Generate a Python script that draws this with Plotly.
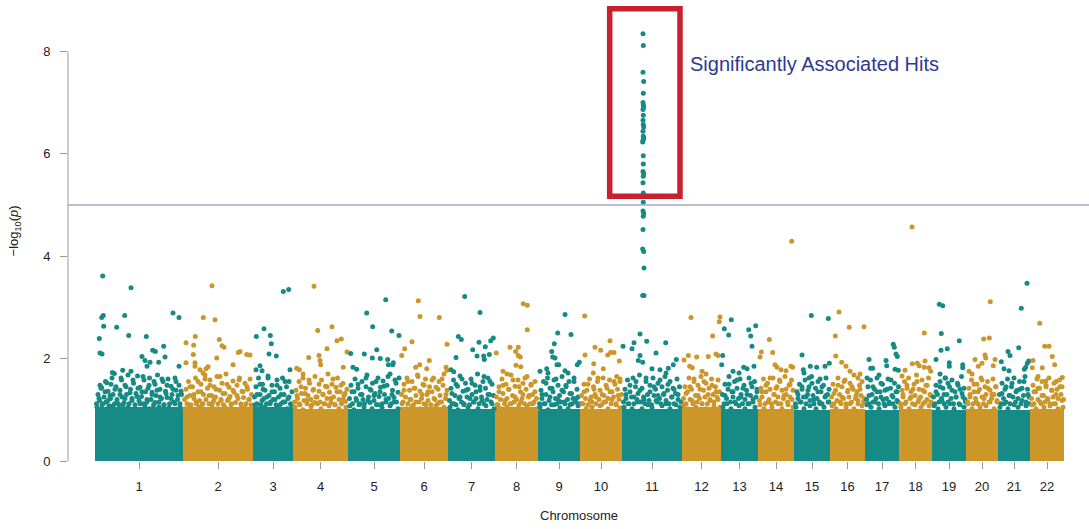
import plotly.graph_objects as go

# ---------------- data ----------------
chromosomes = [str(i) for i in range(1, 23)]
# displayed width of each chromosome block on the genome axis
chrom_width = [88, 70, 40, 55, 52, 48, 47, 43, 42, 42, 60, 39, 37, 36, 36, 35, 34, 33, 34, 32, 32, 34]
# height of the saturated (fully overplotted) SNP band in each chromosome
dense_band = [1.05, 1.05, 1.05, 1.02, 1.02, 1.05, 1.02, 1.05, 1.02, 1.02, 1.02, 1.05,
              1.02, 1.02, 1.0, 1.02, 1.0, 1.02, 1.0, 1.02, 1.0, 1.02]
significance_line = 5.0

# (position within chromosome, -log10 p) for SNPs above the saturated band
chr1 = [(7.7, 3.61), (36, 3.38), (6.7, 2.80), (8.3, 2.84), (29.7, 2.84), (8.7, 2.63), (21.7, 2.61),
        (78, 2.89), (84, 2.80), (33.7, 2.45), (51.3, 2.43), (4.3, 2.39), (5, 2.11), (7, 2.09),
        (47, 2.04), (57.7, 2.16), (60.3, 2.14), (68.7, 2.24), (70, 2.03), (63.7, 1.93), (84, 1.85),
        (50, 1.96), (55, 1.93), (52, 1.85), (17.3, 1.73), (19.3, 1.71), (27.7, 1.77), (36, 1.75),
        (11.7, 1.53), (5, 1.48), (6.7, 1.43),
        (2, 1.05), (4, 1.22), (6, 0.98), (8, 1.12), (10, 1.35), (12, 1.02), (13, 1.18), (15, 1.28),
        (16, 1.50), (18, 1.08), (20, 1.40), (22, 1.15), (23, 1.00), (25, 1.30), (26, 1.62), (28, 1.10),
        (30, 1.22), (31, 1.45), (33, 1.05), (35, 1.33), (37, 1.18), (38, 1.58), (40, 1.02), (42, 1.26),
        (43, 1.42), (45, 1.12), (47, 1.35), (48, 1.65), (50, 1.08), (52, 1.20), (54, 1.48), (55, 1.02),
        (57, 1.30), (59, 1.55), (60, 1.14), (62, 1.38), (64, 1.06), (65, 1.25), (67, 1.60), (69, 1.10),
        (71, 1.32), (72, 1.48), (74, 1.04), (76, 1.22), (78, 1.40), (80, 1.12), (81, 1.55), (83, 1.28),
        (85, 1.05), (86, 1.36),
        (1.5, 1.12), (3, 1.30), (4.5, 1.18), (6, 1.42), (7, 1.10), (9, 1.25), (10.5, 1.55), (11, 1.15),
        (13, 1.36), (14, 1.08), (15.5, 1.22), (17, 1.62), (18, 1.30), (19.5, 1.12), (21, 1.45), (22, 1.20),
        (24, 1.10), (25, 1.38), (26.5, 1.58), (27, 1.25), (29, 1.14), (30, 1.48), (31.5, 1.30), (33, 1.68),
        (34, 1.12), (35.5, 1.40), (37, 1.22), (38.5, 1.52), (40, 1.10), (41, 1.32), (42.5, 1.66), (44, 1.18),
        (45, 1.44), (46.5, 1.26), (48, 1.12), (49, 1.58), (50.5, 1.35), (52, 1.15), (53, 1.42), (54.5, 1.62),
        (56, 1.20), (57, 1.34), (58.5, 1.10), (60, 1.50), (61, 1.28), (62.5, 1.68), (64, 1.15), (65, 1.40),
        (66.5, 1.22), (68, 1.55), (69, 1.10), (70.5, 1.36), (72, 1.24), (73, 1.60), (74.5, 1.12), (76, 1.46),
        (77, 1.30), (78.5, 1.15), (80, 1.62), (81, 1.38), (82.5, 1.20), (84, 1.48), (85, 1.12), (86.5, 1.30)]
chr2 = [(29, 3.42), (20.3, 2.80), (32, 2.76), (12.3, 2.43), (3, 2.31), (10.7, 2.26), (36.3, 2.37),
        (39, 2.25), (41, 2.22), (10.3, 2.08), (33.7, 2.01), (57, 2.14), (55.3, 2.12), (63.7, 2.08),
        (67, 2.07), (50, 1.88), (3, 1.92), (12, 1.92), (12, 1.85), (25, 1.84), (23, 1.80), (17, 1.78),
        (20, 1.72),
        (2, 1.02), (4, 1.25), (6, 1.10), (7, 1.45), (9, 0.98), (11, 1.30), (13, 1.15), (15, 1.55),
        (16, 1.05), (18, 1.35), (20, 1.12), (22, 1.60), (24, 1.00), (26, 1.28), (27, 1.48), (29, 1.08),
        (31, 1.20), (33, 1.40), (35, 1.02), (37, 1.65), (38, 1.18), (40, 1.32), (42, 1.05), (44, 1.50),
        (46, 1.22), (48, 1.10), (50, 1.38), (52, 1.00), (54, 1.28), (56, 1.58), (58, 1.12), (60, 1.35),
        (62, 1.04), (64, 1.45), (66, 1.20), (68, 1.10),
        (1.5, 1.20), (3, 1.40), (4, 1.12), (5.5, 1.55), (7, 1.28), (8, 1.10), (9.5, 1.45), (11, 1.22),
        (12.5, 1.62), (13.5, 1.12), (15, 1.35), (16.5, 1.18), (18, 1.50), (19, 1.10), (20.5, 1.30), (22, 1.68),
        (23, 1.20), (24.5, 1.42), (26, 1.12), (27, 1.58), (28.5, 1.28), (30, 1.15), (31, 1.45), (32.5, 1.25),
        (34, 1.65), (35, 1.12), (36.5, 1.38), (38, 1.20), (39, 1.52), (40.5, 1.10), (42, 1.32), (43, 1.70),
        (44.5, 1.18), (46, 1.44), (47, 1.26), (48.5, 1.12), (50, 1.56), (51, 1.34), (52.5, 1.14), (54, 1.48),
        (55, 1.22), (56.5, 1.62), (58, 1.10), (59, 1.36), (60.5, 1.24), (62, 1.52), (63, 1.12), (64.5, 1.40),
        (66, 1.20), (67, 1.60), (68.5, 1.30)]
chr3 = [(30.3, 3.31), (35.7, 3.35), (11, 2.58), (3.3, 2.43), (17.3, 2.45), (18.3, 2.29), (16, 2.09),
        (23.3, 2.05), (7, 1.86), (37, 1.78), (3, 1.78), (9, 1.76),
        (2, 1.10), (4, 1.30), (5, 1.02), (7, 1.50), (9, 1.18), (10, 1.40), (12, 1.05), (14, 1.25),
        (15, 1.62), (17, 1.12), (19, 1.35), (20, 1.00), (22, 1.20), (24, 1.48), (26, 1.08), (28, 1.30),
        (30, 1.15), (32, 1.55), (34, 1.02), (36, 1.25), (38, 1.10),
        (1.5, 1.25), (3, 1.45), (4, 1.12), (5.5, 1.62), (7, 1.30), (8, 1.10), (9.5, 1.50), (11, 1.22),
        (12, 1.38), (13.5, 1.12), (15, 1.66), (16, 1.28), (17.5, 1.15), (19, 1.48), (20, 1.20), (21.5, 1.35),
        (23, 1.10), (24, 1.58), (25.5, 1.25), (27, 1.42), (28, 1.12), (29.5, 1.62), (31, 1.30), (32, 1.15),
        (33.5, 1.45), (35, 1.22), (36, 1.55), (37.5, 1.12), (39, 1.35)]
chr4 = [(21, 3.41), (24.7, 2.55), (39, 2.62), (44, 2.35), (48.3, 2.38), (34, 2.19), (15.7, 2.02),
        (26, 2.06), (27, 1.96), (27.7, 1.88), (50.3, 1.83), (54, 2.13), (3.7, 1.81), (6.3, 1.78), (10, 1.70),
        (2, 1.05), (4, 1.28), (6, 1.12), (8, 1.45), (10, 1.00), (12, 1.32), (14, 1.18), (16, 1.58),
        (18, 1.06), (20, 1.38), (22, 1.14), (24, 1.25), (26, 1.50), (28, 1.02), (30, 1.30), (32, 1.12),
        (34, 1.45), (36, 1.08), (38, 1.22), (40, 1.60), (42, 1.10), (44, 1.35), (46, 1.02), (48, 1.48),
        (50, 1.20), (52, 1.32), (53, 1.05),
        (1.5, 1.15), (3, 1.38), (4.5, 1.22), (6, 1.55), (7, 1.10), (8.5, 1.32), (10, 1.62), (11, 1.18),
        (12.5, 1.42), (14, 1.12), (15, 1.28), (16.5, 1.52), (18, 1.20), (19, 1.10), (20.5, 1.40), (22, 1.65),
        (23, 1.25), (24.5, 1.12), (26, 1.36), (27, 1.15), (28.5, 1.58), (30, 1.30), (31, 1.12), (32.5, 1.46),
        (34, 1.22), (35, 1.70), (36.5, 1.34), (38, 1.14), (39, 1.50), (40.5, 1.25), (42, 1.10), (43, 1.44),
        (44.5, 1.62), (46, 1.20), (47, 1.35), (48.5, 1.12), (50, 1.52), (51, 1.28), (52.5, 1.16), (54, 1.40)]
chr5 = [(37.7, 3.15), (18.7, 2.89), (24.7, 2.62), (43.7, 2.54), (51, 2.45), (28.7, 2.17), (16.3, 2.09),
        (2.7, 2.10), (24.3, 2.01), (32.3, 2.00), (39.7, 1.98), (45.3, 1.92), (40.3, 1.88), (44.7, 1.88),
        (5, 1.83), (8.7, 1.79),
        (2, 1.08), (4, 1.35), (6, 1.00), (8, 1.22), (10, 1.50), (12, 1.12), (14, 1.30), (16, 1.05),
        (18, 1.62), (20, 1.18), (22, 1.40), (24, 1.02), (26, 1.28), (28, 1.55), (30, 1.10), (32, 1.35),
        (34, 1.04), (36, 1.46), (38, 1.20), (40, 1.65), (42, 1.08), (44, 1.30), (46, 1.15), (48, 1.52),
        (50, 1.02),
        (1.5, 1.22), (3, 1.48), (4.5, 1.12), (6, 1.35), (7, 1.60), (8.5, 1.18), (10, 1.42), (11, 1.10),
        (12.5, 1.30), (14, 1.55), (15, 1.20), (16.5, 1.12), (18, 1.45), (19, 1.68), (20.5, 1.25), (22, 1.14),
        (23, 1.38), (24.5, 1.52), (26, 1.18), (27, 1.32), (28.5, 1.10), (30, 1.62), (31, 1.26), (32.5, 1.44),
        (34, 1.12), (35, 1.56), (36.5, 1.30), (38, 1.15), (39, 1.48), (40.5, 1.22), (42, 1.70), (43, 1.12),
        (44.5, 1.38), (46, 1.24), (47, 1.58), (48.5, 1.15), (50, 1.34), (51, 1.62)]
chr6 = [(18.3, 3.13), (20, 2.82), (39.3, 2.80), (12, 2.33), (4.7, 2.19), (1.7, 2.06), (29.3, 1.96),
        (19.7, 1.88), (15.7, 1.83), (26.7, 1.80), (46, 1.83), (47, 1.77), (47, 2.28),
        (2, 1.12), (4, 1.38), (6, 1.02), (8, 1.55), (10, 1.20), (12, 1.06), (14, 1.42), (16, 1.15),
        (18, 1.65), (20, 1.02), (22, 1.30), (24, 1.48), (26, 1.10), (28, 1.35), (30, 1.00), (32, 1.58),
        (34, 1.22), (36, 1.08), (38, 1.40), (40, 1.15), (42, 1.60), (44, 1.05), (46, 1.30),
        (1.5, 1.30), (3, 1.15), (4, 1.50), (5.5, 1.25), (7, 1.62), (8, 1.12), (9.5, 1.38), (11, 1.20),
        (12, 1.55), (13.5, 1.10), (15, 1.42), (16, 1.28), (17.5, 1.68), (19, 1.15), (20, 1.36), (21.5, 1.22),
        (23, 1.50), (24, 1.12), (25.5, 1.60), (27, 1.30), (28, 1.18), (29.5, 1.45), (31, 1.10), (32, 1.35),
        (33.5, 1.62), (35, 1.20), (36, 1.44), (37.5, 1.12), (39, 1.55), (40, 1.28), (41.5, 1.15), (43, 1.48),
        (44, 1.70), (45.5, 1.22), (47, 1.38)]
chr7 = [(16.7, 3.21), (32, 2.90), (10.3, 2.43), (13.3, 2.37), (24.7, 2.17), (31, 2.32), (37.3, 2.23),
        (42.7, 2.35), (45.3, 2.40), (8, 2.02), (29, 2.05), (35.7, 2.05), (36.3, 1.98), (41.3, 2.08),
        (3, 1.78), (5.7, 1.74),
        (2, 1.05), (4, 1.32), (6, 1.12), (8, 1.50), (10, 1.00), (12, 1.25), (14, 1.60), (16, 1.10),
        (18, 1.38), (20, 1.04), (22, 1.22), (24, 1.52), (26, 1.15), (28, 1.35), (30, 1.02), (32, 1.45),
        (34, 1.18), (36, 1.65), (38, 1.08), (40, 1.30), (42, 1.55), (44, 1.12), (46, 1.02),
        (1.5, 1.18), (3, 1.42), (4, 1.12), (5.5, 1.58), (7, 1.28), (8, 1.10), (9.5, 1.46), (11, 1.22),
        (12, 1.66), (13.5, 1.15), (15, 1.36), (16, 1.12), (17.5, 1.52), (19, 1.25), (20, 1.40), (21.5, 1.10),
        (23, 1.60), (24, 1.30), (25.5, 1.15), (27, 1.48), (28, 1.22), (29.5, 1.70), (31, 1.12), (32, 1.38),
        (33.5, 1.25), (35, 1.55), (36, 1.12), (37.5, 1.42), (39, 1.20), (40, 1.62), (41.5, 1.30), (43, 1.15),
        (44, 1.50), (45.5, 1.28)]
chr8 = [(28.3, 3.07), (32.3, 3.04), (32.3, 2.56), (15, 2.22), (23.3, 2.22), (20.7, 2.14), (23.3, 2.06),
        (25.3, 2.03), (1.3, 2.11), (21, 1.87), (25.7, 1.84), (8, 1.75), (12, 1.70),
        (2, 1.10), (4, 1.35), (6, 1.02), (8, 1.48), (10, 1.18), (12, 1.05), (14, 1.40), (16, 1.12),
        (18, 1.58), (20, 1.25), (22, 1.02), (24, 1.45), (26, 1.15), (28, 1.30), (30, 1.62), (32, 1.08),
        (34, 1.28), (36, 1.50), (38, 1.12), (40, 1.35), (42, 1.02),
        (1.5, 1.25), (3, 1.10), (4, 1.45), (5.5, 1.20), (7, 1.60), (8, 1.32), (9.5, 1.12), (11, 1.50),
        (12, 1.22), (13.5, 1.40), (15, 1.12), (16, 1.68), (17.5, 1.28), (19, 1.15), (20, 1.46), (21.5, 1.20),
        (23, 1.58), (24, 1.10), (25.5, 1.35), (27, 1.22), (28, 1.52), (29.5, 1.12), (31, 1.40), (32, 1.65),
        (33.5, 1.25), (35, 1.12), (36, 1.48), (37.5, 1.30), (39, 1.15), (40, 1.55), (41.5, 1.22)]
chr9 = [(27, 2.86), (19.7, 2.50), (33, 2.47), (16.3, 2.29), (13.7, 2.14), (14.7, 2.03), (17, 2.01),
        (19, 1.88), (20.7, 1.88), (41.3, 1.93), (39.3, 1.88), (2, 1.75), (8.7, 1.80), (10, 1.72),
        (27, 1.76), (30, 1.72),
        (2, 1.05), (4, 1.30), (6, 1.12), (8, 1.52), (10, 1.00), (12, 1.25), (14, 1.42), (16, 1.10),
        (18, 1.60), (20, 1.20), (22, 1.04), (24, 1.38), (26, 1.15), (28, 1.48), (30, 1.02), (32, 1.32),
        (34, 1.12), (36, 1.55), (38, 1.22), (40, 1.08),
        (1.5, 1.12), (3, 1.38), (4, 1.22), (5.5, 1.55), (7, 1.12), (8, 1.30), (9.5, 1.62), (11, 1.18),
        (12, 1.42), (13.5, 1.10), (15, 1.35), (16, 1.58), (17.5, 1.22), (19, 1.12), (20, 1.48), (21.5, 1.28),
        (23, 1.15), (24, 1.65), (25.5, 1.35), (27, 1.12), (28, 1.45), (29.5, 1.20), (31, 1.55), (32, 1.10),
        (33.5, 1.32), (35, 1.22), (36, 1.62), (37.5, 1.15), (39, 1.40), (40, 1.25), (41.5, 1.12)]
chr10 = [(4.7, 2.83), (30, 2.35), (15, 2.22), (20.7, 2.16), (5, 2.07), (27.7, 2.07), (30.7, 2.12),
         (34, 2.12), (13.7, 1.90), (39.3, 1.95), (23.3, 1.80), (13.3, 1.72), (36.7, 1.65), (40, 1.60),
         (2, 1.12), (4, 1.35), (6, 1.02), (8, 1.50), (10, 1.18), (12, 1.05), (14, 1.40), (16, 1.25),
         (18, 1.62), (20, 1.08), (22, 1.30), (24, 1.15), (26, 1.48), (28, 1.02), (30, 1.35), (32, 1.20),
         (34, 1.55), (36, 1.10), (38, 1.28), (40, 1.04),
         (1.5, 1.28), (3, 1.12), (4, 1.50), (5.5, 1.22), (7, 1.38), (8, 1.10), (9.5, 1.60), (11, 1.25),
         (12, 1.15), (13.5, 1.45), (15, 1.30), (16, 1.12), (17.5, 1.55), (19, 1.20), (20, 1.38), (21.5, 1.10),
         (23, 1.62), (24, 1.28), (25.5, 1.15), (27, 1.42), (28, 1.22), (29.5, 1.58), (31, 1.12), (32, 1.35),
         (33.5, 1.25), (35, 1.50), (36, 1.12), (37.5, 1.40), (39, 1.20), (40, 1.55), (41.5, 1.30)]
chr11 = [(21.0, 8.34), (21.3, 8.11), (21.0, 7.59), (21.7, 7.41), (21.3, 7.18), (21.0, 7.00), (21.3, 6.95),
         (21.7, 6.91), (21.0, 6.86), (21.3, 6.75), (21.0, 6.65), (21.3, 6.57), (21.7, 6.52), (21.0, 6.44),
         (21.3, 6.34), (21.7, 6.30), (21.0, 6.26), (20.7, 6.23), (21.3, 5.96), (21.3, 5.80), (21.0, 5.65),
         (21.7, 5.61), (21.3, 5.56), (21.0, 5.43), (21.3, 5.23), (21.3, 5.05), (21.0, 4.88), (21.7, 4.83),
         (21.3, 4.78), (21.0, 4.52), (20.7, 4.14), (21.7, 4.09), (22.0, 3.77), (20.7, 3.23), (22.0, 3.23),
         (1, 2.24), (12, 2.31), (18, 2.48), (24.7, 2.34), (34, 2.11), (43.7, 2.31), (18, 2.06), (16.3, 1.96),
         (20.7, 1.93), (10, 2.19), (54.3, 1.98), (51.3, 1.88), (46.3, 1.81), (38, 1.78), (44, 1.72),
         (30, 1.80),
         (2, 1.05), (4, 1.30), (6, 1.12), (8, 1.48), (10, 1.02), (12, 1.25), (14, 1.55), (16, 1.15),
         (18, 1.38), (20, 1.02), (22, 1.20), (24, 1.62), (26, 1.10), (28, 1.35), (30, 1.04), (32, 1.45),
         (34, 1.18), (36, 1.28), (38, 1.58), (40, 1.08), (42, 1.32), (44, 1.12), (46, 1.50), (48, 1.02),
         (50, 1.25), (52, 1.40), (54, 1.10), (56, 1.30), (58, 1.05),
         (1.5, 1.15), (3, 1.40), (4, 1.22), (5.5, 1.58), (7, 1.12), (8, 1.35), (9.5, 1.25), (11, 1.62),
         (12, 1.12), (13.5, 1.45), (15, 1.20), (16, 1.32), (17.5, 1.68), (19, 1.15), (20, 1.42), (21.5, 1.25),
         (23, 1.12), (24, 1.55), (25.5, 1.30), (27, 1.18), (28, 1.48), (29.5, 1.10), (31, 1.62), (32, 1.28),
         (33.5, 1.40), (35, 1.15), (36, 1.52), (37.5, 1.22), (39, 1.12), (40, 1.45), (41.5, 1.30), (43, 1.65),
         (44, 1.18), (45.5, 1.38), (47, 1.12), (48, 1.55), (49.5, 1.25), (51, 1.42), (52, 1.12), (53.5, 1.32),
         (55, 1.60), (56, 1.20), (57.5, 1.45), (59, 1.15)]
chr12 = [(9, 2.80), (30.7, 2.44), (38, 2.81), (37.3, 2.72), (6.3, 2.06), (14.7, 2.03), (26.3, 2.04),
         (34, 2.09), (36, 2.06), (7.7, 1.85), (10.3, 1.82), (2, 1.97), (20, 1.75), (24, 1.70),
         (2, 1.10), (4, 1.32), (6, 1.02), (8, 1.45), (10, 1.18), (12, 1.60), (14, 1.05), (16, 1.28),
         (18, 1.40), (20, 1.12), (22, 1.55), (24, 1.02), (26, 1.30), (28, 1.18), (30, 1.48), (32, 1.08),
         (34, 1.35), (36, 1.20), (38, 1.05),
         (1.5, 1.22), (3, 1.45), (4, 1.12), (5.5, 1.35), (7, 1.62), (8, 1.20), (9.5, 1.40), (11, 1.12),
         (12, 1.55), (13.5, 1.28), (15, 1.15), (16, 1.48), (17.5, 1.22), (19, 1.65), (20, 1.12), (21.5, 1.38),
         (23, 1.25), (24, 1.52), (25.5, 1.12), (27, 1.42), (28, 1.20), (29.5, 1.60), (31, 1.30), (32, 1.15),
         (33.5, 1.45), (35, 1.25), (36, 1.58), (37.5, 1.35)]
chr13 = [(10.3, 2.76), (3.3, 2.58), (7.7, 2.46), (27.7, 2.56), (34.7, 2.64), (31, 2.24), (29.7, 2.44),
         (1.7, 2.06), (0.7, 1.88), (22.7, 1.83), (12, 1.75), (18, 1.72), (26, 1.80), (33, 1.85),
         (2, 1.05), (4, 1.28), (6, 1.12), (8, 1.50), (10, 1.02), (12, 1.35), (14, 1.15), (16, 1.58),
         (18, 1.08), (20, 1.25), (22, 1.42), (24, 1.02), (26, 1.30), (28, 1.12), (30, 1.52), (32, 1.20),
         (34, 1.05), (36, 1.35),
         (1.5, 1.30), (3, 1.12), (4, 1.50), (5.5, 1.22), (7, 1.40), (8, 1.65), (9.5, 1.15), (11, 1.35),
         (12, 1.25), (13.5, 1.55), (15, 1.12), (16, 1.42), (17.5, 1.22), (19, 1.60), (20, 1.30), (21.5, 1.12),
         (23, 1.48), (24, 1.20), (25.5, 1.38), (27, 1.12), (28, 1.62), (29.5, 1.28), (31, 1.45), (32, 1.15),
         (33.5, 1.55), (35, 1.25), (36, 1.40)]
chr14 = [(33.7, 4.29), (11.3, 2.37), (3.3, 2.13), (2, 2.03), (14.7, 2.12), (17, 1.88), (19, 1.83),
         (23, 1.78), (33, 1.85), (34.7, 1.83), (28, 1.76),
         (2, 1.10), (4, 1.35), (6, 1.02), (8, 1.48), (10, 1.15), (12, 1.62), (14, 1.05), (16, 1.30),
         (18, 1.42), (20, 1.12), (22, 1.55), (24, 1.02), (26, 1.28), (28, 1.40), (30, 1.10), (32, 1.50),
         (34, 1.20), (35, 1.05),
         (1.5, 1.18), (3, 1.42), (4, 1.25), (5.5, 1.60), (7, 1.12), (8, 1.35), (9.5, 1.52), (11, 1.20),
         (12, 1.40), (13.5, 1.12), (15, 1.62), (16, 1.30), (17.5, 1.15), (19, 1.45), (20, 1.25), (21.5, 1.58),
         (23, 1.12), (24, 1.38), (25.5, 1.22), (27, 1.65), (28, 1.30), (29.5, 1.15), (31, 1.48), (32, 1.25),
         (33.5, 1.58), (35, 1.38)]
chr15 = [(17.3, 2.84), (34.3, 2.78), (8, 2.07), (16.3, 1.85), (22.7, 1.83), (31, 1.85), (35.3, 1.91),
         (9.3, 1.78), (10, 1.72), (15, 1.62), (26, 1.60),
         (2, 1.05), (4, 1.30), (6, 1.15), (8, 1.45), (10, 1.02), (12, 1.25), (14, 1.38), (16, 1.08),
         (18, 1.52), (20, 1.20), (22, 1.02), (24, 1.35), (26, 1.12), (28, 1.45), (30, 1.05), (32, 1.28),
         (34, 1.15), (35, 1.40),
         (1.5, 1.12), (3, 1.35), (4, 1.22), (5.5, 1.50), (7, 1.15), (8, 1.40), (9.5, 1.25), (11, 1.58),
         (12, 1.12), (13.5, 1.30), (15, 1.45), (16, 1.18), (17.5, 1.65), (19, 1.28), (20, 1.12), (21.5, 1.42),
         (23, 1.22), (24, 1.55), (25.5, 1.15), (27, 1.35), (28, 1.12), (29.5, 1.48), (31, 1.25), (32, 1.62),
         (33.5, 1.30), (35, 1.15)]
chr16 = [(9, 2.91), (19.3, 2.61), (34, 2.62), (5.3, 2.44), (5.7, 2.05), (11.7, 1.93), (16, 1.85),
         (30, 1.70), (28, 1.62), (20, 1.75),
         (2, 1.08), (4, 1.32), (6, 1.02), (8, 1.48), (10, 1.15), (12, 1.25), (14, 1.55), (16, 1.05),
         (18, 1.38), (20, 1.12), (22, 1.45), (24, 1.02), (26, 1.28), (28, 1.18), (30, 1.40), (32, 1.08),
         (34, 1.22),
         (1.5, 1.25), (3, 1.50), (4, 1.12), (5.5, 1.38), (7, 1.18), (8, 1.62), (9.5, 1.30), (11, 1.12),
         (12, 1.45), (13.5, 1.22), (15, 1.58), (16, 1.12), (17.5, 1.35), (19, 1.25), (20, 1.52), (21.5, 1.15),
         (23, 1.40), (24, 1.68), (25.5, 1.22), (27, 1.35), (28, 1.12), (29.5, 1.48), (31, 1.28), (32, 1.55),
         (33.5, 1.15)]
chr17 = [(28.3, 2.28), (29.3, 2.22), (31, 2.09), (32.3, 2.04), (21, 1.96), (21.7, 1.86), (4, 1.98),
         (5.7, 1.81), (7.7, 1.81), (30, 1.79), (33.3, 1.77), (2, 1.62), (14, 1.68),
         (2, 1.10), (4, 1.28), (6, 1.05), (8, 1.45), (10, 1.15), (12, 1.35), (14, 1.02), (16, 1.52),
         (18, 1.20), (20, 1.08), (22, 1.40), (24, 1.12), (26, 1.58), (28, 1.25), (30, 1.05), (32, 1.35),
         (33, 1.15),
         (1.5, 1.20), (3, 1.45), (4, 1.12), (5.5, 1.58), (7, 1.30), (8, 1.15), (9.5, 1.40), (11, 1.22),
         (12, 1.62), (13.5, 1.12), (15, 1.35), (16, 1.25), (17.5, 1.50), (19, 1.12), (20, 1.38), (21.5, 1.22),
         (23, 1.60), (24, 1.15), (25.5, 1.42), (27, 1.28), (28, 1.12), (29.5, 1.52), (31, 1.35), (32, 1.18),
         (33.5, 1.45)]
chr18 = [(13, 4.57), (25.3, 2.50), (13.3, 1.90), (18.3, 1.91), (20.3, 1.86), (26, 1.95), (30, 1.82),
         (31.7, 1.75), (25.3, 1.83), (6, 1.77), (3, 1.66),
         (2, 1.05), (4, 1.30), (6, 1.12), (8, 1.48), (10, 1.02), (12, 1.25), (14, 1.40), (16, 1.10),
         (18, 1.55), (20, 1.20), (22, 1.05), (24, 1.38), (26, 1.15), (28, 1.48), (30, 1.08), (32, 1.28),
         (1.5, 1.12), (3, 1.38), (4, 1.25), (5.5, 1.55), (7, 1.15), (8, 1.42), (9.5, 1.62), (11, 1.22),
         (12, 1.35), (13.5, 1.12), (15, 1.50), (16, 1.28), (17.5, 1.68), (19, 1.15), (20, 1.40), (21.5, 1.25),
         (23, 1.58), (24, 1.12), (25.5, 1.35), (27, 1.48), (28, 1.20), (29.5, 1.62), (31, 1.30), (32, 1.15)]
chr19 = [(7.3, 3.06), (10.7, 3.03), (9.3, 2.49), (9, 2.16), (15.3, 2.19), (27.3, 2.35), (4, 1.98),
         (17.3, 1.92), (17.3, 1.85), (30.7, 1.88), (30.7, 1.82), (8, 1.70), (13, 1.62),
         (2, 1.08), (4, 1.35), (6, 1.02), (8, 1.45), (10, 1.18), (12, 1.30), (14, 1.05), (16, 1.52),
         (18, 1.12), (20, 1.38), (22, 1.02), (24, 1.25), (26, 1.48), (28, 1.10), (30, 1.32), (32, 1.05),
         (33, 1.20),
         (1.5, 1.25), (3, 1.12), (4, 1.48), (5.5, 1.30), (7, 1.15), (8, 1.55), (9.5, 1.22), (11, 1.42),
         (12, 1.12), (13.5, 1.62), (15, 1.30), (16, 1.15), (17.5, 1.45), (19, 1.22), (20, 1.58), (21.5, 1.12),
         (23, 1.35), (24, 1.25), (25.5, 1.52), (27, 1.12), (28, 1.40), (29.5, 1.65), (31, 1.25), (32, 1.42),
         (33.5, 1.15)]
chr20 = [(24.3, 3.11), (17.7, 2.38), (23.3, 2.40), (19, 2.07), (19.7, 2.01), (9, 1.98), (12.3, 1.85),
         (16, 1.91), (29, 1.98), (27.3, 1.86), (3, 1.75), (6, 1.70),
         (2, 1.12), (4, 1.30), (6, 1.02), (8, 1.50), (10, 1.15), (12, 1.35), (14, 1.05), (16, 1.58),
         (18, 1.22), (20, 1.08), (22, 1.42), (24, 1.15), (26, 1.30), (28, 1.02), (30, 1.45), (31, 1.18),
         (1.5, 1.15), (3, 1.42), (4, 1.25), (5.5, 1.58), (7, 1.12), (8, 1.35), (9.5, 1.22), (11, 1.50),
         (12, 1.12), (13.5, 1.40), (15, 1.62), (16, 1.25), (17.5, 1.12), (19, 1.45), (20, 1.30), (21.5, 1.55),
         (23, 1.15), (24, 1.38), (25.5, 1.22), (27, 1.60), (28, 1.30), (29.5, 1.45), (31, 1.15)]
chr21 = [(29, 3.47), (23.3, 2.98), (20.7, 2.21), (10, 2.14), (12, 2.06), (3.3, 1.94), (30.7, 1.95),
         (29.3, 1.91), (27.7, 1.83), (26.3, 1.79), (6, 1.80), (11, 1.76),
         (2, 1.05), (4, 1.32), (6, 1.12), (8, 1.45), (10, 1.02), (12, 1.28), (14, 1.52), (16, 1.10),
         (18, 1.35), (20, 1.05), (22, 1.40), (24, 1.18), (26, 1.55), (28, 1.08), (30, 1.30), (31, 1.12),
         (1.5, 1.30), (3, 1.12), (4, 1.52), (5.5, 1.22), (7, 1.40), (8, 1.15), (9.5, 1.60), (11, 1.28),
         (12, 1.12), (13.5, 1.45), (15, 1.25), (16, 1.62), (17.5, 1.15), (19, 1.38), (20, 1.22), (21.5, 1.55),
         (23, 1.12), (24, 1.42), (25.5, 1.28), (27, 1.65), (28, 1.15), (29.5, 1.40), (31, 1.25)]
chr22 = [(9.7, 2.69), (14.7, 2.24), (19, 2.24), (22.3, 2.04), (24.7, 1.88), (12.3, 1.82), (3, 1.96),
         (2.3, 1.82), (32.3, 1.63), (15.7, 1.56), (26, 1.55), (8, 1.65),
         (2, 1.10), (4, 1.35), (6, 1.02), (8, 1.42), (10, 1.15), (12, 1.28), (14, 1.05), (16, 1.48),
         (18, 1.20), (20, 1.08), (22, 1.38), (24, 1.12), (26, 1.30), (28, 1.02), (30, 1.45), (32, 1.18),
         (33, 1.05),
         (1.5, 1.22), (3, 1.48), (4, 1.12), (5.5, 1.35), (7, 1.60), (8, 1.20), (9.5, 1.42), (11, 1.12),
         (12, 1.55), (13.5, 1.28), (15, 1.15), (16, 1.45), (17.5, 1.22), (19, 1.62), (20, 1.12), (21.5, 1.38),
         (23, 1.25), (24, 1.52), (25.5, 1.12), (27, 1.40), (28, 1.22), (29.5, 1.58), (31, 1.30), (32, 1.45),
         (33.5, 1.20)]

snp_lists = [chr1, chr2, chr3, chr4, chr5, chr6, chr7, chr8, chr9, chr10, chr11,
             chr12, chr13, chr14, chr15, chr16, chr17, chr18, chr19, chr20, chr21, chr22]

# ---------------- styling ----------------
TEAL = "#168b86"
GOLD = "#cc9629"
FONT = "Liberation Sans, Arial, sans-serif"

starts = []
acc = 0
for w in chrom_width:
    starts.append(acc)
    acc += w
centers = [s + w / 2 for s, w in zip(starts, chrom_width)]
colors = [TEAL if i % 2 == 0 else GOLD for i in range(len(chromosomes))]

fig = go.Figure()

# saturated band of overplotted SNPs
fig.add_trace(go.Bar(
    x=centers, y=dense_band, width=chrom_width,
    marker=dict(color=colors, line=dict(width=0)),
    hoverinfo="skip", showlegend=False,
))

# individual SNPs
for idx, pts in enumerate(snp_lists):
    xs = [starts[idx] + p for p, _ in pts]
    ys = [v for _, v in pts]
    fig.add_trace(go.Scatter(
        x=xs, y=ys, mode="markers",
        marker=dict(size=5, color=colors[idx], line=dict(width=0)),
        cliponaxis=False, showlegend=False,
        name="chr" + chromosomes[idx],
    ))

total = sum(chrom_width)
c11 = starts[10]

fig.update_layout(
    width=1089, height=529,
    margin=dict(l=68, r=0, t=0, b=68),
    paper_bgcolor="white", plot_bgcolor="white",
    font=dict(family=FONT, size=13, color="#222"),
    bargap=0,
    xaxis=dict(
        range=[-27, total + 25],
        tickmode="array", tickvals=centers, ticktext=chromosomes,
        ticks="outside", ticklen=7, tickcolor="#999", tickwidth=1,
        showline=False, showgrid=False, zeroline=False,
        ticklabelstandoff=6,
        tickfont=dict(size=13, color="#222"),
    ),
    yaxis=dict(
        range=[0, 9],
        tickmode="array", tickvals=[0, 2, 4, 6, 8],
        ticks="outside", ticklen=7, tickcolor="#999", tickwidth=1,
        showline=False, showgrid=False, zeroline=False,
        ticklabelstandoff=7,
        tickfont=dict(size=13, color="#222"),
    ),
    shapes=[
        # y axis line (0 to 8)
        dict(type="line", xref="paper", yref="y", x0=0, x1=0, y0=0, y1=8,
             line=dict(color="#999", width=1)),
        # genome-wide significance threshold
        dict(type="line", xref="paper", yref="y", x0=0, x1=1,
             y0=significance_line, y1=significance_line,
             line=dict(color="#a2a7cd", width=1.5)),
        # highlight box around chromosome 11 hits
        dict(type="rect", xref="x", yref="y",
             x0=c11 - 12.3, x1=c11 + 58, y0=5.17, y1=8.83,
             line=dict(color="#c8202f", width=5.5), fillcolor="rgba(0,0,0,0)"),
    ],
    annotations=[
        dict(text="Significantly Associated Hits", xref="x", yref="y",
             x=c11 + 66, y=7.75, xanchor="left", yanchor="middle",
             showarrow=False, font=dict(family=FONT, size=20, color="#2e3a92")),
        dict(text="\u2212log<sub>10</sub>(<i>p</i>)", xref="paper", yref="paper",
             x=-0.052, y=0.5, xanchor="center", yanchor="middle", textangle=-90,
             showarrow=False, font=dict(family=FONT, size=13, color="#222")),
        dict(text="Chromosome", xref="paper", yref="paper",
             x=0.5, y=-0.119, xanchor="center", yanchor="middle",
             showarrow=False, font=dict(family=FONT, size=13, color="#222")),
    ],
)

fig.write_html("out.html")
